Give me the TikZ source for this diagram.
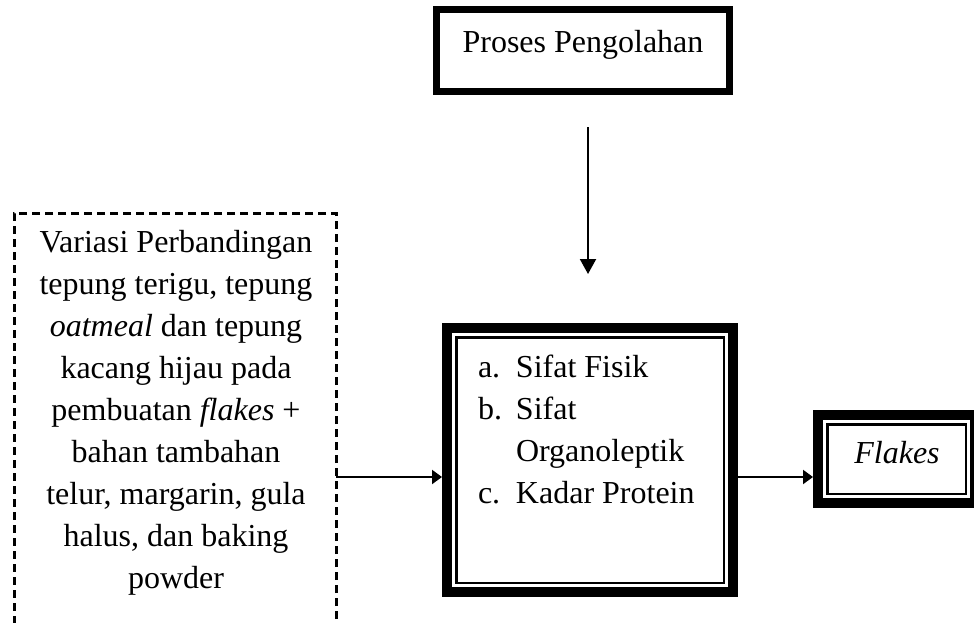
\documentclass[tikz,border=0pt]{standalone}
\usepackage{fontspec}
\setmainfont{Liberation Serif}
\usetikzlibrary{arrows.meta}
\begin{document}
\begin{tikzpicture}[x=1pt,y=-1pt,
  every node/.style={inner sep=0pt, outer sep=0pt},
  txt/.style={font=\fontsize{32pt}{42pt}\selectfont},
  topbox/.style={draw, line width=7pt, outer sep=3.5pt},
  thickbox/.style={draw, line width=10pt, outer sep=5pt},
  thinline/.style={line width=2.5pt},
  dashbox/.style={draw, line width=3pt, dash pattern=on 8pt off 5pt},
  harr/.style={line width=2pt, -{Triangle[length=10pt,width=14pt]}},
  varr/.style={line width=2pt, -{Triangle[length=15pt,width=16pt]}}]
\useasboundingbox (0,0) rectangle (974,622);
\fill[white] (0,0) rectangle (974,622);

% top box
\node[topbox, minimum width=293pt, minimum height=82pt] (top) at (583,50.5) {};
\node[txt, anchor=base] (ttop) at (583,52) {Proses Pengolahan};

% dashed box (runs past the bottom edge)
\node[dashbox, minimum width=322pt, minimum height=448pt] (dash) at (175,437) {};
\node[txt, anchor=base, align=center] (tdash) at (176,588)
  {Variasi Perbandingan\\tepung terigu, tepung\\\textit{oatmeal} dan tepung\\kacang hijau pada\\pembuatan \textit{flakes} +\\bahan tambahan\\telur, margarin, gula\\halus, dan baking\\powder};

% middle box
\node[thickbox, minimum width=286pt, minimum height=264pt] (mid) at (590,460) {};
\draw[thinline] ([xshift=14.25pt,yshift=-14.25pt]mid.north west) rectangle ([xshift=-14.25pt,yshift=14.25pt]mid.south east);
\node[txt, anchor=base west, align=left] (tmid) at (478,503)
  {\makebox[38pt][l]{a.}Sifat Fisik\\\makebox[38pt][l]{b.}Sifat\\\hspace*{38pt}Organoleptik\\\makebox[38pt][l]{c.}Kadar Protein};

% flakes box
\node[thickbox, minimum width=157pt, minimum height=88pt] (flk) at (896.5,459) {};
\draw[thinline] ([xshift=14.25pt,yshift=-14.25pt]flk.north west) rectangle ([xshift=-14.25pt,yshift=14.25pt]flk.south east);
\node[txt, anchor=base] (tflk) at (897,463) {\textit{Flakes}};

% connectors
\coordinate (ay) at (0,477);
\coordinate (vs) at (588,127);
\coordinate (ve) at (588,274);
\draw[varr] (vs) -- (ve);
\draw[harr] (dash.east |- ay) -- (mid.west |- ay);
\draw[harr] (mid.east |- ay) -- (flk.west |- ay);
\end{tikzpicture}
\end{document}
